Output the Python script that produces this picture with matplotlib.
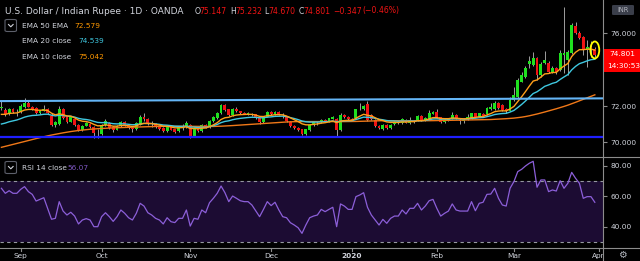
import numpy as np
import pandas as pd
import matplotlib
matplotlib.use("Agg")
import matplotlib.pyplot as plt
from matplotlib.patches import Ellipse, Rectangle, FancyBboxPatch
from matplotlib.lines import Line2D

# daily bars, OANDA feed has no bar for Dec 25 / Jan 1
dates = pd.bdate_range("2019-08-26", "2020-03-31")
dates = dates[~dates.isin(pd.to_datetime(["2019-12-25", "2020-01-01"]))]

opens = [71.90, 71.80, 71.56, 71.82, 71.67, 71.66, 71.95, 72.18, 71.96, 71.87,
         71.60, 71.73, 71.85, 71.47, 70.96, 71.02, 71.82, 71.38, 71.14, 71.28,
         70.95, 70.68, 70.92, 71.00, 70.87, 70.55, 70.47, 70.98, 71.08, 70.85,
         70.70, 70.90, 71.10, 70.95, 70.80, 70.72, 70.98, 71.41, 71.30, 71.00,
         71.00, 70.85, 70.80, 70.62, 70.85, 70.72, 70.60, 70.85, 70.82, 70.96,
         70.35, 70.78, 70.62, 70.96, 70.84, 71.15, 71.35, 71.60, 72.05, 71.82,
         71.50, 71.84, 71.70, 71.62, 71.58, 71.58, 71.54, 71.38, 71.12, 71.42,
         71.69, 71.56, 71.69, 71.50, 71.40, 71.14, 70.92, 70.78, 70.72, 70.46,
         70.68, 70.96, 71.10, 71.10, 71.25, 71.18, 71.30, 71.27, 70.68, 71.50,
         71.42, 71.30, 71.32, 71.95, 71.82, 72.10, 71.50, 71.23, 70.90, 70.75,
         70.95, 70.80, 71.00, 71.12, 71.05, 71.22, 71.05, 71.20, 71.19, 71.45,
         71.19, 71.27, 71.58, 71.65, 71.38, 71.10, 71.22, 71.30, 71.52, 71.22,
         71.20, 71.35, 71.32, 71.60, 71.42, 71.55, 71.56, 71.85, 71.82, 72.15,
         72.05, 71.85, 71.74, 72.33, 72.51, 73.34, 73.61, 74.30, 74.25, 74.62,
         73.70, 74.35, 74.38, 73.88, 74.10, 73.98, 74.80, 74.55, 74.90, 76.40,
         76.00, 75.80, 75.05, 75.25, 75.147]
highs = [72.30, 71.87, 71.90, 71.88, 71.82, 72.10, 72.42, 72.33, 72.02, 71.92,
         71.78, 72.05, 71.90, 71.60, 71.15, 72.00, 71.88, 71.42, 71.42, 71.35,
         71.00, 70.95, 71.10, 71.06, 70.92, 70.75, 71.00, 71.30, 71.12, 70.90,
         70.95, 71.15, 71.15, 71.00, 70.85, 71.10, 71.50, 71.62, 71.34, 71.15,
         71.04, 70.90, 70.84, 70.90, 70.90, 70.76, 70.86, 71.00, 71.15, 71.00,
         70.84, 70.82, 71.00, 71.02, 71.24, 71.46, 71.68, 72.12, 72.10, 71.86,
         71.88, 71.92, 71.74, 71.66, 71.66, 71.62, 71.58, 71.42, 71.42, 71.74,
         71.74, 71.74, 71.74, 71.60, 71.44, 71.18, 70.96, 70.82, 70.76, 70.76,
         71.00, 71.14, 71.20, 71.30, 71.30, 71.36, 71.46, 71.32, 71.60, 71.56,
         71.46, 71.34, 71.86, 72.15, 72.04, 72.30, 71.54, 71.27, 70.94, 71.00,
         71.00, 71.02, 71.16, 71.16, 71.32, 71.26, 71.40, 71.24, 71.50, 71.50,
         71.40, 71.80, 71.72, 71.85, 71.42, 71.30, 71.34, 71.65, 71.56, 71.35,
         71.35, 71.55, 71.64, 71.64, 71.64, 71.60, 71.94, 72.15, 72.30, 72.20,
         72.10, 71.90, 72.50, 73.03, 73.55, 73.85, 74.20, 74.75, 74.95, 74.70,
         74.40, 75.00, 74.45, 74.20, 74.15, 75.10, 77.42, 75.05, 76.56, 76.60,
         76.10, 75.85, 75.63, 75.55, 75.232]
lows = [71.80, 71.45, 71.50, 71.62, 71.45, 71.60, 71.90, 71.92, 71.78, 71.55,
        71.55, 71.70, 71.55, 70.90, 70.85, 70.98, 71.28, 71.08, 71.10, 70.90,
        70.60, 70.62, 70.88, 70.80, 70.25, 70.25, 70.42, 70.90, 70.74, 70.55,
        70.66, 70.86, 70.90, 70.76, 70.58, 70.68, 70.94, 71.20, 70.95, 70.85,
        70.78, 70.70, 70.56, 70.58, 70.66, 70.54, 70.56, 70.70, 70.78, 70.25,
        70.30, 70.58, 70.58, 70.78, 70.80, 71.10, 71.30, 71.55, 71.74, 71.45,
        71.46, 71.66, 71.58, 71.54, 71.50, 71.46, 71.28, 71.00, 71.08, 71.38,
        71.52, 71.52, 71.48, 71.35, 71.10, 70.86, 70.76, 70.62, 70.40, 70.42,
        70.64, 70.92, 70.95, 71.06, 71.14, 71.14, 71.26, 70.35, 70.64, 71.34,
        71.22, 71.18, 71.28, 71.80, 71.78, 71.20, 71.25, 70.86, 70.74, 70.70,
        70.76, 70.76, 70.96, 71.00, 71.00, 71.04, 71.00, 71.08, 71.15, 71.15,
        71.15, 71.23, 71.54, 71.34, 71.05, 71.06, 71.18, 71.26, 71.26, 71.00,
        71.05, 71.25, 71.28, 71.38, 71.38, 71.41, 71.52, 71.78, 71.78, 71.84,
        71.72, 71.62, 71.70, 72.28, 72.45, 73.30, 73.56, 74.10, 74.20, 73.45,
        73.60, 74.30, 73.80, 73.80, 73.78, 73.90, 73.80, 73.70, 74.85, 75.95,
        75.70, 74.80, 74.16, 74.70, 74.670]
closes = [71.92, 71.55, 71.82, 71.67, 71.68, 72.00, 72.18, 71.96, 71.82, 71.60,
          71.73, 71.85, 71.60, 70.96, 71.10, 71.82, 71.32, 71.14, 71.38, 70.95,
          70.65, 70.90, 71.05, 70.85, 70.53, 70.56, 70.96, 71.15, 70.80, 70.70,
          70.90, 71.10, 70.95, 70.80, 70.72, 71.05, 71.41, 71.26, 71.00, 71.02,
          70.82, 70.75, 70.62, 70.85, 70.70, 70.58, 70.82, 70.86, 71.05, 70.33,
          70.80, 70.62, 70.95, 70.84, 71.19, 71.41, 71.63, 72.05, 71.78, 71.50,
          71.82, 71.70, 71.62, 71.58, 71.58, 71.52, 71.32, 71.12, 71.38, 71.69,
          71.56, 71.69, 71.52, 71.48, 71.15, 70.90, 70.80, 70.68, 70.46, 70.72,
          70.96, 71.10, 71.12, 71.25, 71.20, 71.32, 71.41, 70.68, 71.50, 71.38,
          71.27, 71.23, 71.82, 71.97, 72.00, 71.25, 71.29, 70.90, 70.80, 70.95,
          70.80, 70.98, 71.12, 71.05, 71.27, 71.08, 71.25, 71.12, 71.45, 71.19,
          71.35, 71.60, 71.68, 71.38, 71.10, 71.25, 71.30, 71.52, 71.30, 71.20,
          71.22, 71.37, 71.60, 71.42, 71.60, 71.45, 71.90, 71.93, 72.15, 71.88,
          71.80, 71.70, 72.33, 72.60, 73.43, 73.70, 74.07, 74.45, 74.62, 73.70,
          74.30, 74.55, 73.88, 74.10, 73.85, 74.93, 74.90, 74.95, 76.45, 76.00,
          75.75, 75.08, 75.25, 75.15, 74.801]

rsi = [65.3, 62.0, 63.7, 62.0, 62.0, 64.6, 66.4, 63.1, 61.3, 56.9,
       58.0, 59.1, 52.1, 44.9, 45.5, 56.5, 50.3, 47.7, 49.5, 47.0,
       41.8, 44.4, 45.3, 44.4, 40.0, 40.0, 46.6, 49.2, 46.6, 43.5,
       46.6, 51.0, 48.8, 45.9, 44.4, 48.8, 55.4, 53.6, 49.2, 47.7,
       45.5, 44.4, 41.8, 45.9, 43.3, 42.7, 45.5, 45.5, 51.0, 40.4,
       45.5, 44.9, 51.0, 49.2, 55.8, 58.7, 62.0, 66.8, 62.4, 56.5,
       60.2, 58.7, 57.1, 56.5, 56.5, 54.3, 50.5, 46.6, 51.4, 56.5,
       53.9, 56.1, 51.0, 46.6, 45.9, 42.6, 41.1, 39.3, 35.6, 41.1,
       45.9, 47.0, 47.7, 51.4, 49.9, 51.4, 52.8, 40.0, 55.0, 53.6,
       51.4, 51.4, 59.8, 60.9, 62.4, 52.8, 47.7, 44.4, 41.1, 44.8,
       42.2, 45.5, 47.0, 47.0, 51.0, 48.4, 52.1, 52.1, 55.4, 51.0,
       53.6, 57.1, 58.0, 52.1, 47.0, 48.8, 50.3, 55.0, 51.0, 50.3,
       50.3, 50.3, 56.5, 50.5, 55.4, 56.1, 61.3, 61.5, 65.3, 58.7,
       54.3, 53.6, 65.3, 69.7, 76.3, 77.8, 80.0, 81.8, 83.1, 66.0,
       70.8, 70.8, 63.1, 64.2, 63.5, 70.3, 65.3, 68.6, 75.8, 71.9,
       68.6, 58.7, 59.8, 59.8, 56.07]

# EMA values at the first visible bar
ema10_start = 71.54
ema20_start = 71.01
ema50_start = 69.73

# hand drawn lines
channel_top = [72.27, 72.42]
support_level = 70.32

price_ticks = [70, 72, 76]
rsi_ticks = [40, 60, 80]
legend_values = ["72.579", "74.539", "75.042"]
rsi_value = "56.07"

GREEN = "#1fe01f"
RED = "#f01414"
WICK = "#b8b8b8"
TXT = "#d1d4dc"
AXC = "#8c8c8c"


def ema(values, span, start):
    k = 2 / (span + 1)
    out = [start]
    for v in values[1:]:
        out.append(out[-1] + k * (v - out[-1]))
    return np.array(out)


W, H = 640, 261
fig = plt.figure(figsize=(W / 100, H / 100), dpi=100, facecolor="black")


def fx(x):
    return x / W


def fy(y):
    return 1 - y / H


axis_x = 603.3
ax = fig.add_axes([0, fy(156), fx(axis_x), 156 / H])
ax_rsi = fig.add_axes([0, fy(248), fx(axis_x), (248 - 157) / H])
ax_t = fig.add_axes([0, 0, fx(axis_x), (H - 248) / H])
for a in (ax, ax_rsi, ax_t):
    a.set_facecolor("black")
    for s in a.spines.values():
        s.set_visible(False)
    a.set_xlim(-0.37, 156.2)
    a.set_xticks([])

ax.set_ylim(69.253, 77.824)
ax_rsi.set_ylim(25.95, 85.93)
ax_t.set_ylim(0, 1)
ax_t.set_yticks([])

# candles
x = np.arange(len(closes))
o, h, l, c = map(np.array, (opens, highs, lows, closes))
cols = np.where(c >= o, GREEN, RED)
ax.vlines(x, l, h, color=WICK, lw=0.6, zorder=2)
ax.bar(x, np.maximum(np.abs(c - o), 0.015), bottom=np.minimum(o, c),
       width=0.74, color=cols, lw=0, zorder=3)

# moving averages ("EMA 50 EMA" is smoothed on the EMA 20 line)
ema20 = ema(closes, 20, ema20_start)
ema10 = ema(closes, 10, ema10_start)
ema50 = ema(ema20, 50, ema50_start)
ax.plot(x, ema50, color="#f07818", lw=1.0, zorder=4)
ax.plot(x, ema20, color="#3fc8e0", lw=1.0, zorder=4)
ax.plot(x, ema10, color="#ff9f1a", lw=1.0, zorder=4)

# drawings
xl = ax.get_xlim()
ax.plot([xl[0], xl[1]], channel_top, color="#64b5f6", lw=1.5, zorder=5)
ax.axhline(support_level, color="#1f1fff", lw=1.6, zorder=5)
ax.add_patch(Ellipse((x[-1], 75.08), 2.3, 0.93, fill=False,
                     edgecolor="#ffff00", lw=1.3, zorder=6))

# price scale
ax.yaxis.tick_right()
ax.set_yticks(price_ticks)
ax.set_yticklabels([f"{t:.3f}" for t in price_ticks])
ax.tick_params(axis="y", colors=AXC, labelcolor=TXT, labelsize=5.3,
               length=3, width=0.8, pad=2)

# RSI pane
ax_rsi.axhspan(30, 70, color="#1c0c33", lw=0, zorder=1)
for lvl in (70, 30):
    ax_rsi.axhline(lvl, color="#9598a1", lw=0.8, ls=(0, (3, 3)), zorder=2)
ax_rsi.plot(x, rsi, color="#8c5fd9", lw=0.9, zorder=3)
ax_rsi.yaxis.tick_right()
ax_rsi.set_yticks(rsi_ticks)
ax_rsi.set_yticklabels([f"{t:.2f}" for t in rsi_ticks])
ax_rsi.tick_params(axis="y", colors=AXC, labelcolor=TXT, labelsize=5.3,
                   length=3, width=0.8, pad=2)

# time axis
month_pos, month_lab = [], []
prev = None
for i, d in enumerate(dates):
    if d.month != prev:
        if prev is not None:
            month_pos.append(i)
            month_lab.append(str(d.year) if d.month == 1 else d.strftime("%b"))
        prev = d.month
month_pos.append(len(dates))
month_lab.append("Apr")
for p, lab in zip(month_pos, month_lab):
    ax_t.plot([p, p], [1.0, 0.78], color=AXC, lw=0.8, clip_on=True)
    ax_t.text(p, 0.38, lab, color=TXT, fontsize=5.3, ha="center", va="center",
              fontweight="bold" if lab == "2020" else "normal", clip_on=True)

# separators
fig.add_artist(Line2D([fx(axis_x)] * 2, [0, 1], color=AXC, lw=0.8))
for yy in (156.5, 248.3):
    fig.add_artist(Line2D([0, 1], [fy(yy)] * 2, color=AXC, lw=0.8))

# header text
fig.text(fx(5), fy(11), "U.S. Dollar / Indian Rupee · 1D · OANDA",
         color=TXT, fontsize=6.5, va="center")
hdr = [(194.3, "O", TXT), (199, "75.147", RED), (230, "H", TXT), (235, "75.232", RED),
       (264, "L", TXT), (268, "74.670", RED), (299, "C", TXT), (303, "74.801", RED),
       (333, "\u22120.347", RED), (362, "(\u22120.46%)", RED)]
for xx, s, cc in hdr:
    fig.text(fx(xx), fy(11), s, color=cc, fontsize=5.6, va="center")

names = ["EMA 50 EMA", "EMA 20 close", "EMA 10 close"]
val_x = [74, 78, 78]
val_c = ["#ff9800", "#3fc8e0", "#ff9800"]
for k, (nm, v) in enumerate(zip(names, legend_values)):
    yy = 25.7 + k * 15.5
    fig.text(fx(22.5), fy(yy), nm, color=TXT, fontsize=5.3, va="center")
    fig.text(fx(val_x[k]), fy(yy), v, color=val_c[k], fontsize=5.3, va="center")

fig.text(fx(22.5), fy(167.5), "RSI 14 close", color=TXT, fontsize=5.3, va="center")
fig.text(fx(67), fy(167.5), rsi_value, color="#7e57c2", fontsize=5.3, va="center")


def chevron_box(y0):
    fig.add_artist(FancyBboxPatch((fx(5), fy(y0 + 12)), fx(11.5), 12 / H,
                                  boxstyle="round,pad=0,rounding_size=0.004",
                                  transform=fig.transFigure, fill=False,
                                  edgecolor="#5d606b", lw=0.8))
    fig.add_artist(Line2D([fx(8.5), fx(10.8), fx(13.1)],
                          [fy(y0 + 5), fy(y0 + 7.3), fy(y0 + 5)],
                          color=TXT, lw=0.8))


chevron_box(19.5)
chevron_box(161.5)

# last price / countdown labels
fig.add_artist(Rectangle((fx(604), fy(60)), fx(36), 11 / H, transform=fig.transFigure,
                         color="#ff0000", lw=0))
fig.add_artist(Rectangle((fx(604), fy(71.7)), fx(36), 11.7 / H, transform=fig.transFigure,
                         color="#ff0000", lw=0))
fig.text(fx(609), fy(54.5), "74.801", color="white", fontsize=5.3, va="center")
fig.text(fx(607), fy(66), "14:30:53", color="white", fontsize=5.3, va="center")

fig.add_artist(FancyBboxPatch((fx(612), fy(15)), fx(22), 10 / H,
                              boxstyle="round,pad=0,rounding_size=0.003",
                              transform=fig.transFigure, color="#3a3e4a", lw=0))
fig.text(fx(623), fy(9.8), "INR", color="#b2b5be", fontsize=4.8,
         ha="center", va="center")
fig.text(fx(622), fy(255.5), "\u2699", color="#b2b5be", fontsize=7,
         ha="center", va="center")

fig.savefig("out.png", dpi=100, facecolor="black")
